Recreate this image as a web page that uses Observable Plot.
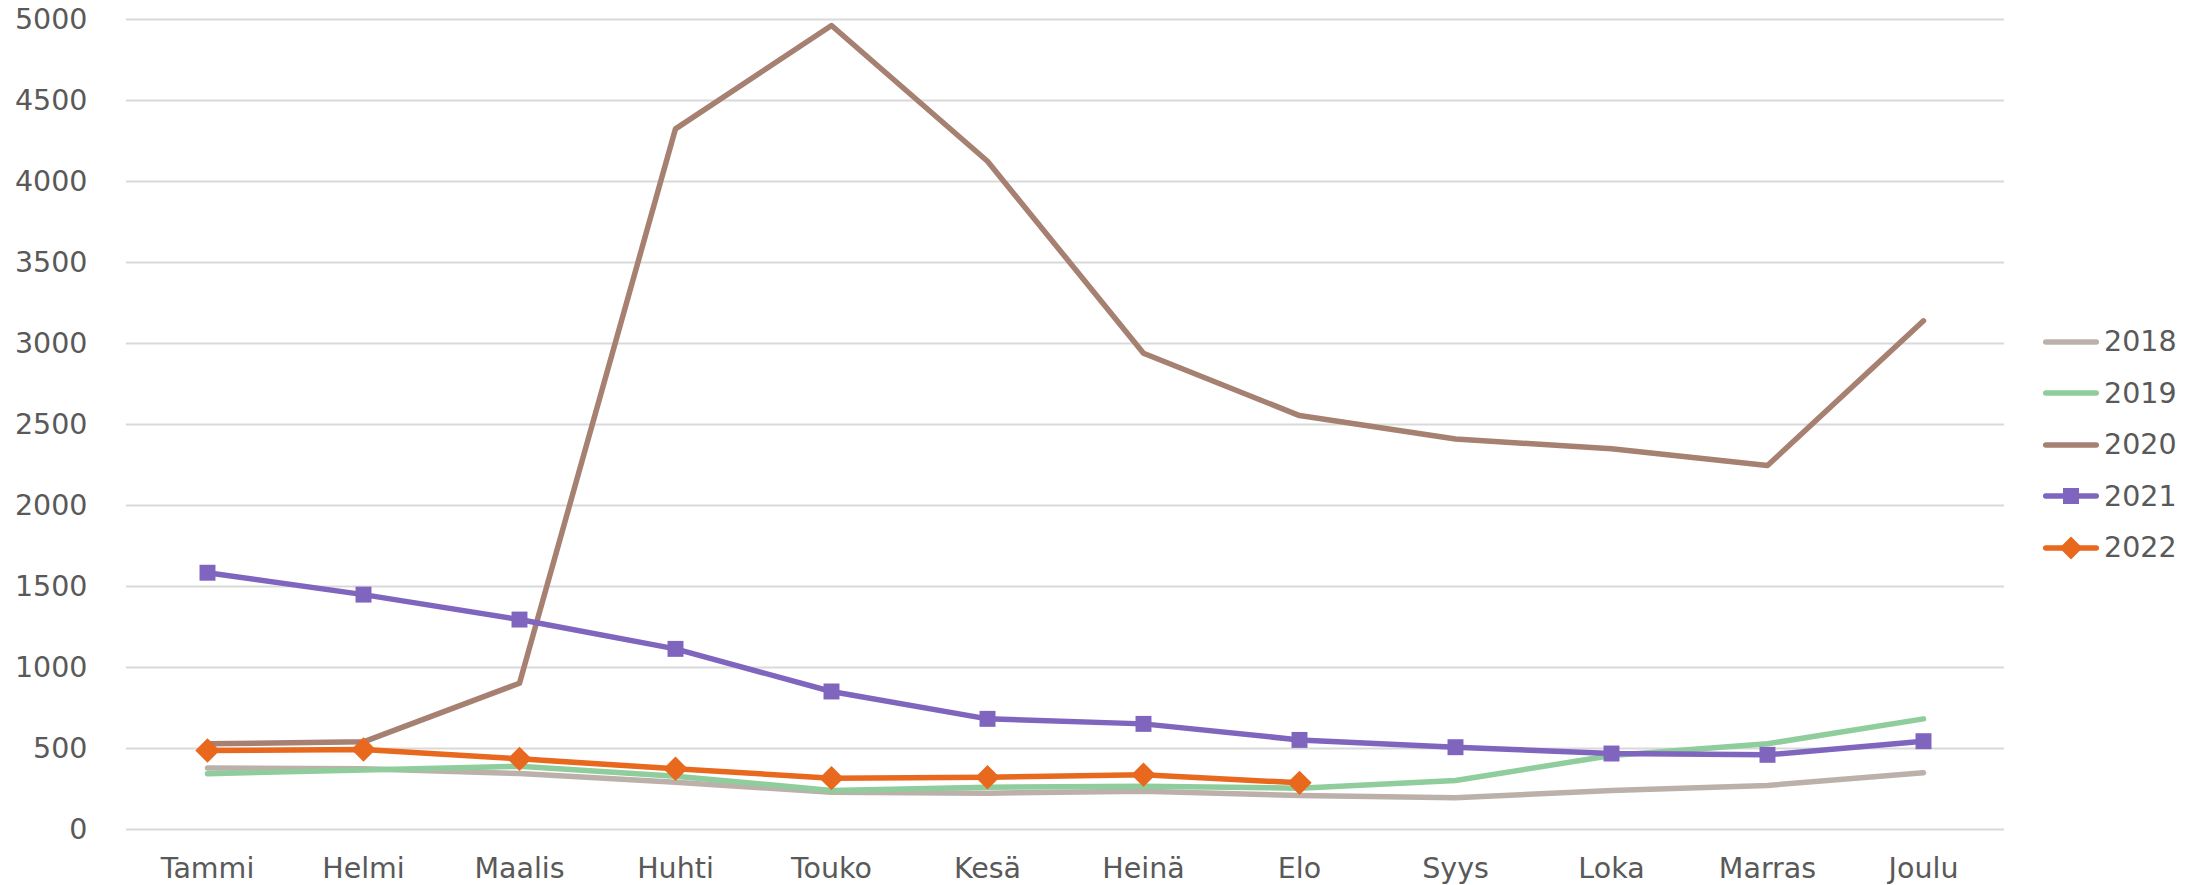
<!DOCTYPE html>
<html>
<head>
<meta charset="utf-8">
<script src="https://cdn.jsdelivr.net/npm/d3@7"></script>
<script src="https://cdn.jsdelivr.net/npm/@observablehq/plot@0.6"></script>
<style>
  html, body { margin: 0; padding: 0; background: #ffffff; }
  #wrap { position: relative; width: 2201px; height: 885px; overflow: hidden; }
  #legend { position: absolute; left: 2043px; top: 316px; font-family: "DejaVu Sans", Verdana, sans-serif; font-size: 28.5px; color: #595959; }
  .item { display: flex; align-items: center; height: 51.5px; }
  .item span { margin-left: 5px; }
</style>
</head>
<body>
<div id="wrap"><div id="legend"></div></div>
<script>
const months = ["Tammi", "Helmi", "Maalis", "Huhti", "Touko", "Kesä", "Heinä", "Elo", "Syys", "Loka", "Marras", "Joulu"];
const years = ["2018", "2019", "2020", "2021", "2022"];
const yTicks = [0, 500, 1000, 1500, 2000, 2500, 3000, 3500, 4000, 4500, 5000];

const v2018 = [380, 375, 345, 292, 230, 224, 236, 210, 196, 241, 272, 350];
const v2019 = [344, 368, 391, 329, 241, 261, 267, 255, 302, 457, 529, 683];
const v2020 = [529, 541, 903, 4325, 4963, 4125, 2940, 2555, 2410, 2350, 2247, 3140];
const v2021 = [1585, 1450, 1296, 1115, 852, 683, 652, 553, 508, 469, 461, 545];
const v2022 = [488, 494, 436, 375, 317, 323, 338, 288];

const colors = ["#bcb1aa", "#8fcd9c", "#a68071", "#7f65bd", "#e8681e"];
const markers = [null, null, null, "square", "diamond"];

const seriesValues = [v2018, v2019, v2020, v2021, v2022];
const data = years.flatMap((yr, k) => seriesValues[k].map((v, i) => ({month: months[i], year: yr, value: v})));

const font = "\"DejaVu Sans\", Verdana, sans-serif";

const chart = Plot.plot({
  width: 2201,
  height: 885,
  marginLeft: 126,
  marginRight: 197,
  marginTop: 19,
  marginBottom: 56,
  style: {fontFamily: font, fontSize: "28.5px", color: "#595959", background: "#ffffff", overflow: "visible"},
  x: {type: "point", domain: months, padding: 0.5, align: 0.5, label: null},
  y: {domain: [0, 5000], label: null},
  color: {domain: years, range: colors},
  marks: [
    Plot.ruleY(yTicks, {stroke: "#d9d9d9", strokeWidth: 2}),
    Plot.axisY({ticks: yTicks, tickSize: 0, tickPadding: 39, tickFormat: d => String(d), fill: "#595959", fontSize: 28.5, label: null}),
    Plot.axisX({tickSize: 0, tickPadding: 28, fill: "#595959", fontSize: 28.5, label: null}),
    Plot.line(data, {x: "month", y: "value", z: "year", stroke: "year", strokeWidth: 5.5, strokeLinejoin: "round", strokeLinecap: "round"}),
    Plot.dot(data.filter(d => d.year === "2021"), {x: "month", y: "value", symbol: "square", r: 9, fill: colors[3], stroke: "none"}),
    Plot.dot(data.filter(d => d.year === "2022"), {x: "month", y: "value", symbol: "diamond2", r: 11, fill: colors[4], stroke: "none"})
  ]
});

document.getElementById("wrap").prepend(chart);

// Legend
const legend = d3.select("#legend");
years.forEach((yr, k) => {
  const row = legend.append("div").attr("class", "item");
  const svg = row.append("svg").attr("width", 56).attr("height", 26);
  svg.append("line").attr("x1", 2.75).attr("x2", 53.25).attr("y1", 13).attr("y2", 13)
    .attr("stroke", colors[k]).attr("stroke-width", 5.5).attr("stroke-linecap", "round");
  if (markers[k] === "square") {
    svg.append("rect").attr("x", 28 - 8).attr("y", 13 - 8).attr("width", 16).attr("height", 16).attr("fill", colors[k]);
  } else if (markers[k] === "diamond") {
    svg.append("path").attr("d", "M28,1.5L39.5,13L28,24.5L16.5,13Z").attr("fill", colors[k]);
  }
  row.append("span").text(yr);
});
</script>
</body>
</html>
